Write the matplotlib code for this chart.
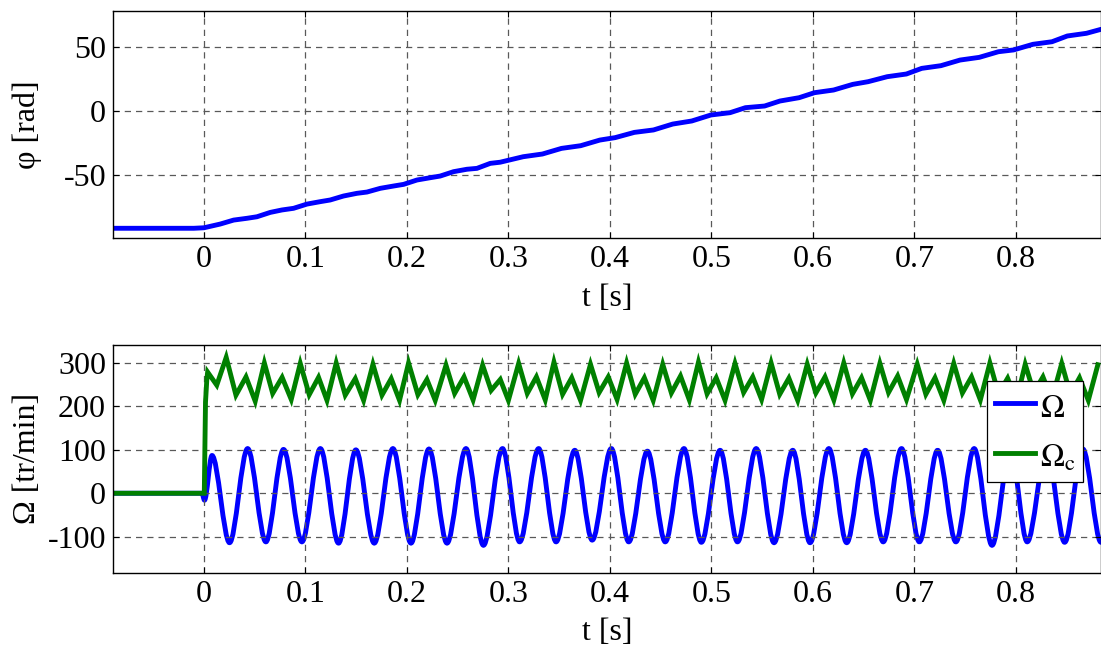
import matplotlib
matplotlib.use("Agg")
import matplotlib.pyplot as plt
from matplotlib.path import Path
from matplotlib.patches import PathPatch
from matplotlib.lines import Line2D

plt.rcParams["font.family"] = ["Liberation Serif", "DejaVu Serif"]
plt.rcParams["mathtext.fontset"] = "stix"
plt.rcParams["font.size"] = 23
plt.rcParams["axes.unicode_minus"] = False

# --- angle phi [rad]
phi_t = [-0.0897, -0.010, 0.0, 0.016, 0.0292, 0.0424, 0.0522, 0.0653, 0.0768, 0.0883,
         0.1015, 0.1146, 0.1244, 0.1375, 0.1507, 0.1606, 0.1737, 0.1868, 0.1967,
         0.2099, 0.2230, 0.2328, 0.2459, 0.2591, 0.2690, 0.2821, 0.2919, 0.3146,
         0.3335, 0.3523, 0.3712, 0.3901, 0.4052, 0.4241, 0.4430, 0.4619, 0.4807,
         0.4996, 0.5185, 0.5336, 0.5525, 0.5676, 0.5865, 0.6016, 0.6205, 0.6393,
         0.6545, 0.6733, 0.6922, 0.7073, 0.7262, 0.7451, 0.7640, 0.7829, 0.7979,
         0.8169, 0.8357, 0.8508, 0.8697, 0.884]
phi_v = [-91.6, -91.6, -91.2, -88.3, -85.2, -83.8, -82.6, -79.2, -77.3, -76.0,
         -72.7, -70.8, -69.5, -66.4, -64.3, -63.3, -60.4, -58.6, -57.3,
         -53.9, -52.1, -50.8, -47.4, -45.5, -44.8, -40.9, -40.0, -35.7,
         -33.6, -29.2, -27.1, -22.7, -20.8, -16.7, -14.8, -10.2, -7.8,
         -3.1, -1.3, 2.6, 3.9, 7.8, 10.4, 14.3, 16.4, 20.8,
         22.9, 26.8, 28.9, 33.3, 35.4, 39.8, 41.9, 46.3, 47.7,
         52.1, 54.1, 58.6, 60.7, 63.8]

# --- speed Omega [tr/min]: flat part, then successive extrema (trough, peak, ...)
omega_t = [-0.0897, -0.002, 0.0005, 0.0079,
           0.0252, 0.0430, 0.0610, 0.0784, 0.0965, 0.1147, 0.1326, 0.1497,
           0.1678, 0.1862, 0.2040, 0.2217, 0.2395, 0.2582, 0.2754, 0.2942,
           0.3111, 0.3298, 0.3470, 0.3654, 0.3826, 0.4014, 0.4186, 0.4370,
           0.4546, 0.4730, 0.4902, 0.5086, 0.5258, 0.5442, 0.5618, 0.5802,
           0.5973, 0.6158, 0.6334, 0.6518, 0.6694, 0.6874, 0.7050, 0.7230,
           0.7410, 0.7590, 0.7766, 0.7947, 0.8113, 0.8304, 0.8482, 0.8661, 0.8840]
omega_v = [0, 0, -16, 87,
           -114, 103, -112, 101, -112, 103, -115, 100,
           -115, 103, -115, 102, -115, 103, -120, 103,
           -112, 103, -112, 99, -108, 103, -112, 97,
           -112, 103, -113, 99, -112, 103, -114, 99,
           -114, 103, -114, 99, -112, 103, -112, 99,
           -112, 103, -120, 100, -112, 101, -113, 102, -113]

# --- commanded speed Omega_c [tr/min]
omegac_t = [-0.0897, 0.0003, 0.0015, 0.0028, 0.0036, 0.0126, 0.0219, 0.0315, 0.0414, 0.0505,
            0.0595, 0.0677, 0.0770, 0.0860,
            0.0949, 0.1037, 0.1129, 0.1212,
            0.1303, 0.1392, 0.1491, 0.1573,
            0.1665, 0.1754, 0.1845, 0.1927,
            0.2016, 0.2108, 0.2197, 0.2279,
            0.2385, 0.2470, 0.2563, 0.2652,
            0.2746, 0.2830, 0.2920, 0.3000,
            0.3101, 0.3186, 0.3276, 0.3363,
            0.3449, 0.3534, 0.3624, 0.3711,
            0.3809, 0.3894, 0.3984, 0.4071,
            0.4165, 0.4250, 0.4340, 0.4427,
            0.4521, 0.4606, 0.4696, 0.4783,
            0.4873, 0.4958, 0.5048, 0.5135,
            0.5233, 0.5318, 0.5408, 0.5495,
            0.5589, 0.5674, 0.5764, 0.5851,
            0.5945, 0.6030, 0.6120, 0.6207,
            0.6305, 0.6390, 0.6480, 0.6567,
            0.6661, 0.6746, 0.6836, 0.6923,
            0.7029, 0.7114, 0.7204, 0.7291,
            0.7389, 0.7474, 0.7564, 0.7651,
            0.7745, 0.7830, 0.7920, 0.8007,
            0.8093, 0.8178, 0.8268, 0.8355,
            0.8453, 0.8538, 0.8628, 0.8715,
            0.8809]
omegac_v = [0, 0, 210, 262, 279, 249, 313, 226, 268, 212,
            300, 230, 267, 216,
            299, 227, 267, 214,
            300, 226, 264, 214,
            297, 226, 264, 214,
            300, 227, 262, 214,
            295, 230, 268, 215,
            295, 237, 262, 214,
            299, 230, 268, 215,
            302, 228, 266, 214,
            297, 232, 268, 216,
            300, 228, 266, 214,
            297, 231, 270, 215,
            302, 229, 266, 214,
            299, 232, 268, 216,
            300, 228, 265, 214,
            297, 231, 268, 215,
            300, 229, 266, 214,
            299, 232, 270, 216,
            297, 228, 266, 214,
            299, 231, 268, 215,
            300, 229, 265, 214,
            297, 232, 268, 216,
            299, 228, 266, 214,
            296]

x_ticks = [0, 0.1, 0.2, 0.3, 0.4, 0.5, 0.6, 0.7, 0.8]
x_ticklabels = ["0", "0.1", "0.2", "0.3", "0.4", "0.5", "0.6", "0.7", "0.8"]

BLUE = (0, 0, 1)
GREEN = (0, 0.5, 0)
LW = 3.5


def style_axes(ax):
    ax.set_xlim(-0.0897, 0.884)
    ax.set_xticks(x_ticks)
    ax.set_xticklabels(x_ticklabels)
    ax.grid(True, color="0.35", linestyle=(0, (5, 4)), linewidth=0.9)
    ax.tick_params(direction="in", length=4, width=0.8, top=True, right=True, pad=5)
    for s in ax.spines.values():
        s.set_linewidth(1.0)
    ax.set_xlabel("t [s]", labelpad=7)
    ax.yaxis.set_label_coords(-0.072, 0.5)


def smooth_path(ts, vs):
    # cubic Bezier segments with flat tangents at each extremum
    verts = [(ts[0], vs[0])]
    codes = [Path.MOVETO]
    for i in range(1, len(ts)):
        dt = ts[i] - ts[i - 1]
        verts += [(ts[i - 1] + dt / 3, vs[i - 1]), (ts[i] - dt / 3, vs[i]), (ts[i], vs[i])]
        codes += [Path.CURVE4] * 3
    return Path(verts, codes)


fig = plt.figure(figsize=(11.01, 6.48), dpi=100)
ax1 = fig.add_axes([0.1026, 0.6327, 0.8974, 0.3503])
ax2 = fig.add_axes([0.1026, 0.1162, 0.8974, 0.3514])

# top: phi
ax1.plot(phi_t, phi_v, color=BLUE, linewidth=LW, solid_capstyle="round",
         solid_joinstyle="round")
ax1.set_ylim(-99.2, 78.1)
ax1.set_yticks([-50, 0, 50])
ax1.set_ylabel("φ [rad]")
style_axes(ax1)

# bottom: Omega and Omega_c
patch = PathPatch(smooth_path(omega_t, omega_v), facecolor="none", edgecolor=BLUE,
                  linewidth=LW, joinstyle="round", capstyle="round")
ax2.add_patch(patch)
ax2.plot(omegac_t, omegac_v, color=GREEN, linewidth=LW, solid_joinstyle="miter")
ax2.set_ylim(-183, 341.5)
ax2.set_yticks([-100, 0, 100, 200, 300])
ax2.set_ylabel("Ω [tr/min]")
style_axes(ax2)

handles = [Line2D([], [], color=BLUE, linewidth=LW),
           Line2D([], [], color=GREEN, linewidth=LW)]
leg = ax2.legend(handles, [r"$\Omega$", r"$\Omega_{\mathrm{c}}$"], loc="upper right",
                 bbox_to_anchor=(0.9818, 0.842), borderaxespad=0, fancybox=False,
                 framealpha=1, edgecolor="black", handlelength=1.25, handleheight=1.3,
                 handletextpad=0.15, labelspacing=0.45, borderpad=0.25, fontsize=23)
leg.get_frame().set_linewidth(0.9)

fig.savefig("out.png", dpi=100)
